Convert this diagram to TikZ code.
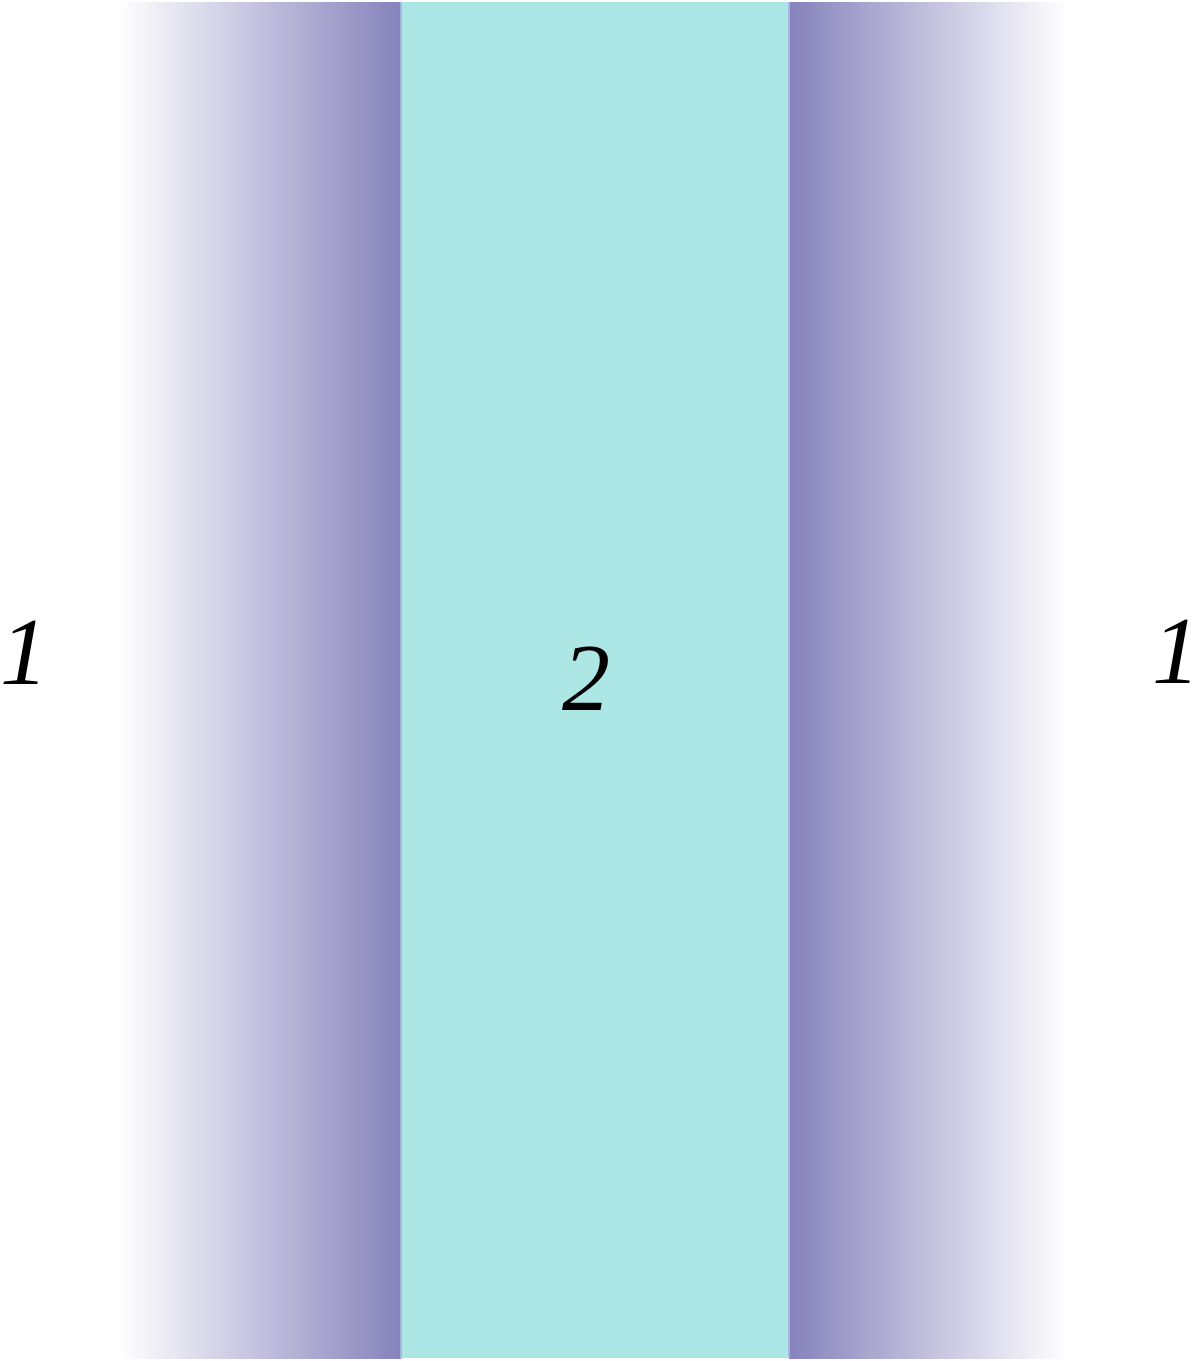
\documentclass[tikz,border=0pt]{standalone}
\usepackage{fontspec}
\setmainfont{Liberation Serif}
\definecolor{band}{HTML}{8682BC}
\definecolor{core}{HTML}{ACE7E6}
\definecolor{edge}{HTML}{A3B6E0}
\begin{document}
\begin{tikzpicture}[x=1pt,y=-1pt,
  lbl/.style={anchor=base,inner sep=0pt,font=\fontsize{96}{96}\selectfont\itshape}]
\useasboundingbox (0,0) rectangle (1200,1361);
\fill[white] (0,0) rectangle (1200,1361);
\shade[left color=white,right color=band] (118,2) rectangle (401,1358);
\shade[left color=band,right color=white] (789,2) rectangle (1068,1358);
\fill[core] (401,2) rectangle (789,1358);
\draw[edge,line width=1.5pt] (401,2) -- (401,1358) (789,2) -- (789,1358);
\node[lbl] (l1) at (24,684) {1};
\node[lbl] (l2) at (586,710) {2};
\node[lbl] (l3) at (1176,683) {1};
\end{tikzpicture}
\end{document}
